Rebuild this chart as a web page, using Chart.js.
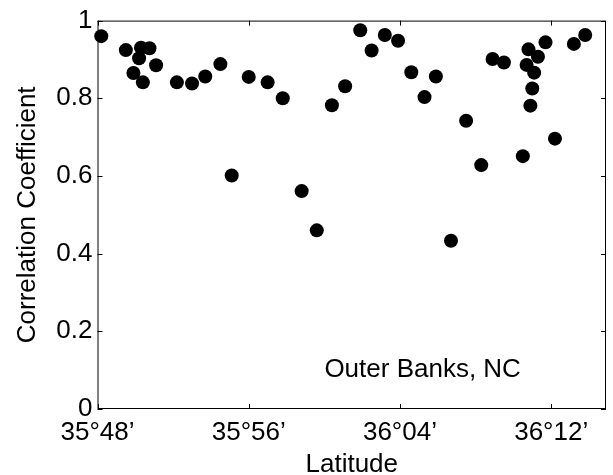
<!DOCTYPE html>
<html>
<head>
<meta charset="utf-8">
<script src="https://cdn.jsdelivr.net/npm/chart.js@4"></script>
<style>
  html, body { margin: 0; padding: 0; background: #fff; }
  #wrap { width: 613px; height: 475px; }
</style>
</head>
<body>
<div id="wrap"><canvas id="grafica"></canvas></div>
<script>
// latitud en minutos de arco (35°48' = 2148)
const latitud = [
  2148.2, 2149.5, 2149.9, 2150.3, 2150.2, 2150.4, 2150.75, 2151.1,
  2152.2, 2153.0, 2153.7, 2154.5, 2155.1, 2156.0, 2157.0, 2157.8,
  2158.8, 2159.6, 2160.4, 2161.1, 2161.9, 2162.5, 2163.2, 2163.9,
  2164.6, 2165.3, 2165.9, 2166.7, 2167.5, 2168.3, 2168.9, 2169.5,
  2170.5, 2170.8, 2170.7, 2171.1, 2171.3, 2171.0, 2170.9, 2171.7,
  2172.2, 2173.2, 2173.8
];
const correlacion = [
  0.960, 0.924, 0.865, 0.930, 0.903, 0.841, 0.929, 0.885,
  0.841, 0.838, 0.856, 0.888, 0.601, 0.855, 0.841, 0.800,
  0.561, 0.460, 0.782, 0.831, 0.975, 0.923, 0.963, 0.948,
  0.867, 0.803, 0.856, 0.433, 0.742, 0.628, 0.901, 0.892,
  0.651, 0.926, 0.886, 0.866, 0.907, 0.825, 0.781, 0.944,
  0.696, 0.940, 0.963
];
const ticksX = [2148, 2156, 2164, 2172];
const etiquetasX = ['35°48’', '35°56’', '36°04’', '36°12’'];
const ticksY = [0, 0.2, 0.4, 0.6, 0.8, 1];
const etiquetasY = ['0', '0.2', '0.4', '0.6', '0.8', '1'];

Chart.defaults.font.family = "'Liberation Sans', Arial, sans-serif";
Chart.defaults.color = '#000';

// marco con marcas hacia adentro y el texto del lugar
const marco = {
  id: 'marco',
  afterDraw(chart) {
    const ctx = chart.ctx;
    const a = chart.chartArea;
    const sx = chart.scales.x, sy = chart.scales.y;
    ctx.save();
    ctx.strokeStyle = '#000';
    ctx.lineWidth = 1;
    ctx.strokeRect(a.left + 0.5, a.top + 0.5, a.right - a.left - 1, a.bottom - a.top - 1);
    ctx.beginPath();
    ticksX.forEach(v => {
      const px = Math.round(sx.getPixelForValue(v)) + 0.5;
      ctx.moveTo(px, a.bottom); ctx.lineTo(px, a.bottom - 5);
      ctx.moveTo(px, a.top); ctx.lineTo(px, a.top + 5);
    });
    ticksY.forEach(v => {
      const py = Math.round(sy.getPixelForValue(v)) + 0.5;
      ctx.moveTo(a.left, py); ctx.lineTo(a.left + 5, py);
      ctx.moveTo(a.right, py); ctx.lineTo(a.right - 5, py);
    });
    ctx.stroke();
    ctx.fillStyle = '#000';
    ctx.font = "26px 'Liberation Sans', Arial, sans-serif";
    ctx.textAlign = 'center';
    ctx.textBaseline = 'middle';
    ctx.fillText('Outer Banks, NC', sx.getPixelForValue(2165.2), sy.getPixelForValue(0.1));
    ctx.restore();
  }
};

new Chart(document.getElementById('grafica'), {
  type: 'scatter',
  data: {
    datasets: [{
      data: latitud.map((x, i) => ({ x: x, y: correlacion[i] })),
      backgroundColor: '#000',
      borderWidth: 0,
      pointRadius: 7,
      pointHoverRadius: 7,
      clip: false
    }]
  },
  options: {
    responsive: true,
    maintainAspectRatio: false,
    animation: false,
    layout: { padding: { left: 0, right: 3, top: 17, bottom: 0 } },
    plugins: { legend: { display: false }, tooltip: { enabled: false } },
    scales: {
      x: {
        type: 'linear',
        min: 2148,
        max: 2174.9,
        afterBuildTicks: s => { s.ticks = ticksX.map(v => ({ value: v })); },
        afterFit: s => { s.height = 66; },
        grid: { display: false, drawTicks: false },
        border: { display: false },
        ticks: {
          padding: 8,
          maxRotation: 0,
          font: { size: 26 },
          callback: v => etiquetasX[ticksX.indexOf(v)]
        },
        title: { display: true, text: 'Latitude', font: { size: 26 }, padding: { top: 0, bottom: -5 } }
      },
      y: {
        min: 0,
        max: 1,
        afterBuildTicks: s => { s.ticks = ticksY.map(v => ({ value: v })); },
        afterFit: s => { s.width = 97.5; },
        grid: { display: false, drawTicks: false },
        border: { display: false },
        ticks: {
          padding: 5,
          font: { size: 26 },
          callback: v => etiquetasY[ticksY.indexOf(v)]
        },
        title: { display: true, text: 'Correlation Coefficient', font: { size: 26 }, padding: { top: 12, bottom: 0 } }
      }
    }
  },
  plugins: [marco]
});
</script>
</body>
</html>
